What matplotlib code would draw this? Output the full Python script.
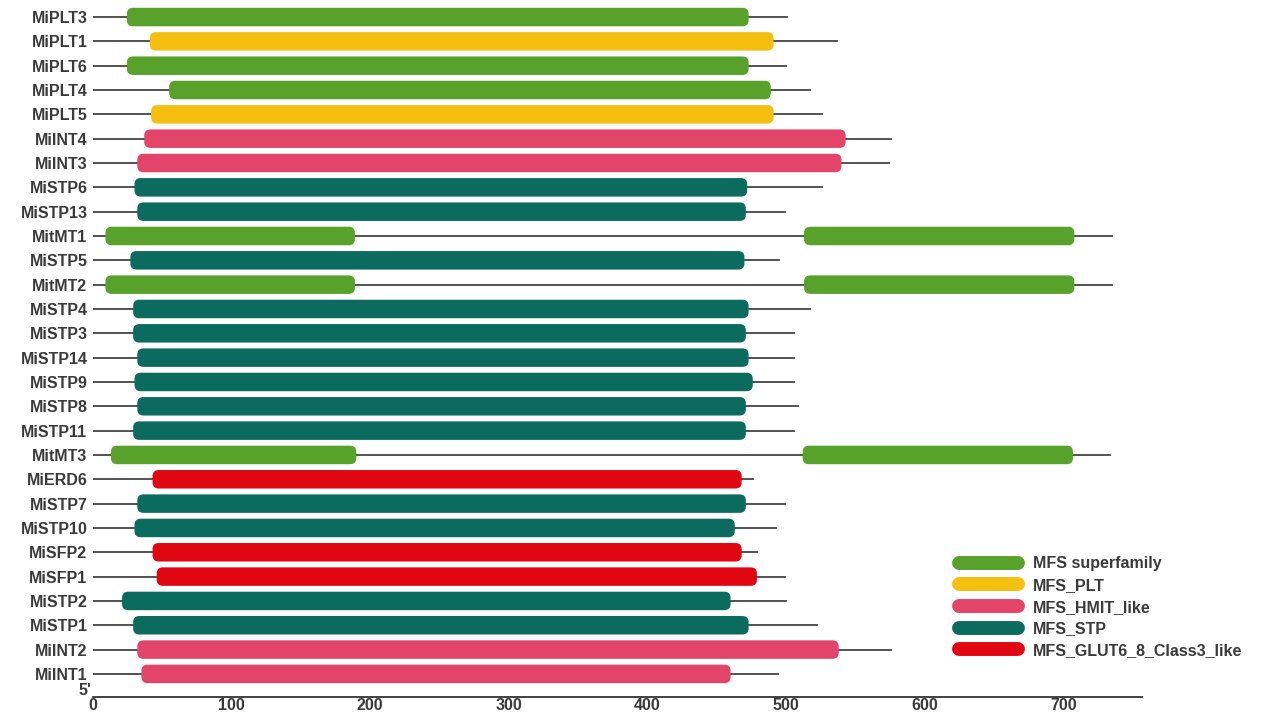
import matplotlib.pyplot as plt
from matplotlib.patches import FancyBboxPatch
from matplotlib.lines import Line2D

plt.rcParams['font.family'] = ['Liberation Sans', 'DejaVu Sans']

# proteins, top to bottom, with their full length (aa)
genes = ['MiPLT3', 'MiPLT1', 'MiPLT6', 'MiPLT4', 'MiPLT5', 'MiINT4', 'MiINT3',
         'MiSTP6', 'MiSTP13', 'MitMT1', 'MiSTP5', 'MitMT2', 'MiSTP4', 'MiSTP3',
         'MiSTP14', 'MiSTP9', 'MiSTP8', 'MiSTP11', 'MitMT3', 'MiERD6', 'MiSTP7',
         'MiSTP10', 'MiSFP2', 'MiSFP1', 'MiSTP2', 'MiSTP1', 'MiINT2', 'MiINT1']
prot_len = [501, 537, 500, 517, 526, 576, 574, 526, 499, 735, 495, 735, 517, 506,
            506, 506, 509, 506, 734, 476, 499, 493, 479, 499, 500, 522, 576, 494]

# conserved domains: owning protein, start, end, family
dom_gene = ['MiPLT3', 'MiPLT1', 'MiPLT6', 'MiPLT4', 'MiPLT5', 'MiINT4', 'MiINT3',
            'MiSTP6', 'MiSTP13', 'MitMT1', 'MitMT1', 'MiSTP5', 'MitMT2', 'MitMT2',
            'MiSTP4', 'MiSTP3', 'MiSTP14', 'MiSTP9', 'MiSTP8', 'MiSTP11', 'MitMT3',
            'MitMT3', 'MiERD6', 'MiSTP7', 'MiSTP10', 'MiSFP2', 'MiSFP1', 'MiSTP2',
            'MiSTP1', 'MiINT2', 'MiINT1']
dom_start = [24.5, 41, 24.5, 55, 42, 37, 32, 30, 32, 9, 513, 27, 9, 513, 29, 29, 32,
             30, 32, 29, 13, 512, 43, 32, 30, 43, 46, 21, 29, 32, 35]
dom_end = [473, 491, 473, 489, 491, 543, 540, 472, 471, 189, 708, 470, 189, 708,
           473, 471, 473, 476, 471, 471, 190, 707, 468, 471, 463, 468, 479, 460,
           473, 538, 460]
dom_family = ['MFS superfamily', 'MFS_PLT', 'MFS superfamily', 'MFS superfamily',
              'MFS_PLT', 'MFS_HMIT_like', 'MFS_HMIT_like', 'MFS_STP', 'MFS_STP',
              'MFS superfamily', 'MFS superfamily', 'MFS_STP', 'MFS superfamily',
              'MFS superfamily', 'MFS_STP', 'MFS_STP', 'MFS_STP', 'MFS_STP', 'MFS_STP',
              'MFS_STP', 'MFS superfamily', 'MFS superfamily', 'MFS_GLUT6_8_Class3_like',
              'MFS_STP', 'MFS_STP', 'MFS_GLUT6_8_Class3_like', 'MFS_GLUT6_8_Class3_like',
              'MFS_STP', 'MFS_STP', 'MFS_HMIT_like', 'MFS_HMIT_like']

families = ['MFS superfamily', 'MFS_PLT', 'MFS_HMIT_like', 'MFS_STP',
            'MFS_GLUT6_8_Class3_like']
fam_colors = ['#58a12a', '#f5bf0f', '#e2446a', '#0b6b5f', '#e00712']
xticks = [0, 100, 200, 300, 400, 500, 600, 700]

txt_color = '#3a3a3a'

fig = plt.figure(figsize=(12.82, 7.13), dpi=100)
ax = fig.add_axes([0.0725, 0.0224, 0.8185, 0.9776])

ypos = {g: i for i, g in enumerate(genes)}
color_of = dict(zip(families, fam_colors))

# backbone line for every protein
for g, L in zip(genes, prot_len):
    ax.plot([0, L], [ypos[g], ypos[g]], color='#444444', lw=1.3, zorder=1)

# rounded domain boxes
bar_h = 0.76
for g, s, e, f in zip(dom_gene, dom_start, dom_end, dom_family):
    box = FancyBboxPatch((s, ypos[g] - bar_h / 2), e - s, bar_h,
                         boxstyle='round,pad=0,rounding_size=4.5',
                         mutation_aspect=0.055, fc=color_of[f], ec='none', zorder=2)
    ax.add_patch(box)

ax.set_xlim(0, 757)
ax.set_ylim(27.95, -0.7)
ax.set_yticks(range(len(genes)))
ax.set_yticklabels(genes, fontsize=11.5, fontweight='bold', color=txt_color)
ax.tick_params(axis='y', length=0, pad=4)
ax.set_xticks(xticks)
ax.set_xticklabels([str(t) for t in xticks], fontsize=11.5, fontweight='bold',
                   color=txt_color)
ax.tick_params(axis='x', length=0, pad=1)
for side in ['left', 'top', 'right']:
    ax.spines[side].set_visible(False)
ax.spines['bottom'].set_color('#333333')
ax.spines['bottom'].set_linewidth(1.3)
ax.text(-1, 27.7, "5'", ha='right', va='center', fontsize=11.5, fontweight='bold',
        color=txt_color)

# legend with rounded colour bars
handles = [Line2D([0], [0], color=c, lw=10, solid_capstyle='round') for c in fam_colors]
leg = ax.legend(handles, families, loc='upper left', bbox_to_anchor=(0.737, 0.24),
                bbox_transform=fig.transFigure, frameon=False,
                prop={'size': 11.5, 'weight': 'bold'},
                handlelength=3.7, handletextpad=0.9, labelspacing=0.42)
for t in leg.get_texts():
    t.set_color(txt_color)

fig.savefig('out.png', dpi=100)
